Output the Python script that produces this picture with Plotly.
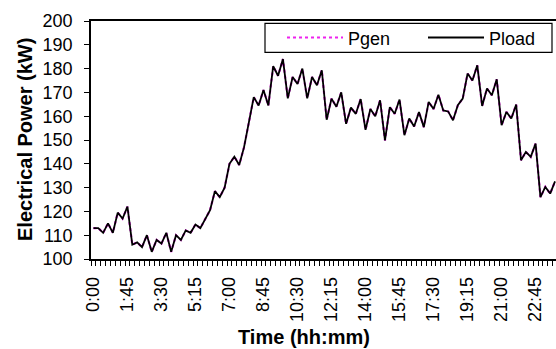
import plotly.graph_objects as go

times = [f"{h}:{m:02d}" for h in range(24) for m in (0, 15, 30, 45)]

p_load = [113, 113, 111, 115, 111, 119.5, 117, 122, 106, 107,
          105, 110, 103, 108, 106.5, 111, 103, 110, 108, 112,
          111, 114.5, 113, 117, 120.5, 128.5, 126, 130, 140, 143,
          139.5, 147, 158, 168, 164.5, 171, 164.5, 181, 177, 184,
          167.5, 176.5, 173.5, 180, 167.5, 176.5, 173, 179.3, 158.5, 167.4,
          164, 170, 156.8, 163.6, 161, 167.2, 154.3, 163, 160, 166.7,
          149.8, 163.8, 161, 167, 152, 159, 155.7, 161.7, 155.4, 166,
          163, 169, 162.4, 162, 158.3, 164.6, 167.4, 177.9, 175, 181.4,
          164.3, 171.6, 168.8, 175.5, 156.2, 161.8, 159, 164.9, 141.5, 145,
          142.9, 148.5, 126, 130.3, 127.5, 132.6]

p_gen = [113, 113, 111, 115, 111, 119.5, 117, 122, 106, 107,
         105, 110, 103, 108, 106.5, 111, 103, 110, 108, 112,
         111, 114.5, 113, 117, 120.5, 128.5, 126, 130, 140, 143,
         139.5, 147, 158, 168, 164.5, 171, 164.5, 181, 177, 184,
         167.5, 176.5, 173.5, 180, 167.5, 176.5, 173, 179.3, 158.5, 167.4,
         164, 170, 156.8, 163.6, 161, 167.2, 154.3, 163, 160, 166.7,
         149.8, 163.8, 161, 167, 152, 159, 155.7, 161.7, 155.4, 166,
         163, 169, 162.4, 162, 158.3, 164.6, 167.4, 177.9, 175, 181.4,
         164.3, 171.6, 168.8, 175.5, 156.2, 161.8, 159, 164.9, 141.5, 145,
         142.9, 148.5, 126, 130.3, 127.5, 132.6]

tick_text = [t if i % 7 == 0 else "" for i, t in enumerate(times)]
y_ticks = list(range(100, 201, 10))

FONT = "Liberation Sans, Arial, sans-serif"

fig = go.Figure()
fig.add_trace(go.Scatter(x=times, y=p_gen, mode="lines", name="Pgen", legend="legend",
                         line=dict(color="#ee22ee", width=2.2, dash="dot")))
fig.add_trace(go.Scatter(x=times, y=p_load, mode="lines", name="Pload", legend="legend2",
                         line=dict(color="black", width=1.8)))

leg_common = dict(orientation="h", yanchor="middle", xanchor="left",
                  bgcolor="rgba(0,0,0,0)", borderwidth=0, itemwidth=56,
                  font=dict(size=18))

fig.update_layout(
    width=556, height=349,
    margin=dict(l=91, r=0, t=21, b=90),
    paper_bgcolor="white", plot_bgcolor="white",
    font=dict(family=FONT, size=17, color="black"),
    showlegend=True,
    legend=dict(x=(282 - 91) / 465, y=0.9294, **leg_common),
    legend2=dict(x=(423 - 91) / 465, y=0.9294, **leg_common),
    shapes=[dict(type="rect", xref="paper", yref="paper",
                 x0=(265 - 91) / 465, x1=(552 - 91) / 465,
                 y0=(258.7 - 52) / 238, y1=(258.7 - 23) / 238,
                 line=dict(color="black", width=1.2), fillcolor="white")],
    xaxis=dict(type="category", categoryorder="array", categoryarray=times,
               range=[-0.5, 95.2], tickmode="array", tickvals=times, ticktext=tick_text,
               tickson="boundaries", ticks="outside", ticklen=5, tickcolor="black",
               tickangle=-90, ticklabelstandoff=9, tickfont=dict(size=18),
               showgrid=False, zeroline=False,
               showline=True, linecolor="black", linewidth=1.5, mirror=True),
    yaxis=dict(range=[100, 200], tickmode="array", tickvals=y_ticks,
               ticks="outside", ticklen=5, tickcolor="black", ticklabelstandoff=8,
               tickfont=dict(size=18), showgrid=False,
               zeroline=False, showline=True, linecolor="black", linewidth=1.5),
    annotations=[
        dict(text="<b>Electrical Power (kW)</b>", xref="paper", yref="paper",
             x=(25 - 91) / 465, y=0.5, textangle=-90, showarrow=False,
             xanchor="center", yanchor="middle", font=dict(size=20)),
        dict(text="<b>Time (hh:mm)</b>", xref="paper", yref="paper",
             x=(304 - 91) / 465, y=(258.7 - 337) / 238, showarrow=False,
             xanchor="center", yanchor="middle", font=dict(size=20)),
    ],
)

fig.write_html("out.html")
